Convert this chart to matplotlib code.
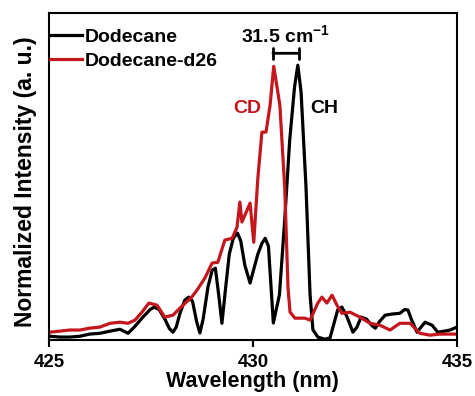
import matplotlib
matplotlib.use("Agg")
import matplotlib.pyplot as plt

plt.rcParams['font.family'] = ['Liberation Sans', 'DejaVu Sans']
plt.rcParams['font.weight'] = 'bold'
plt.rcParams['mathtext.fontset'] = 'custom'
plt.rcParams['mathtext.rm'] = 'Liberation Sans:bold'
plt.rcParams['mathtext.bf'] = 'Liberation Sans:bold'
plt.rcParams['mathtext.default'] = 'bf'

# Dodecane (CH) spectrum
wl_ch = [425.02, 425.27, 425.51, 425.76, 426.00, 426.25, 426.50, 426.74, 426.94,
         427.11, 427.28, 427.48, 427.58, 427.70, 427.84, 427.95, 428.04, 428.12,
         428.21, 428.33, 428.43, 428.52, 428.62, 428.70, 428.78, 428.90, 429.00,
         429.08, 429.16, 429.24, 429.32, 429.42, 429.52, 429.62, 429.70, 429.80,
         429.93, 430.03, 430.12, 430.22, 430.30, 430.38, 430.50, 430.65,
         430.78, 430.90, 431.02, 431.10, 431.18, 431.30, 431.40, 431.47, 431.59,
         431.76, 431.89, 431.98, 432.08, 432.18, 432.30, 432.45, 432.55, 432.65,
         432.78, 432.92, 433.00, 433.10, 433.24, 433.40, 433.60, 433.72, 433.80,
         433.88, 434.02, 434.12, 434.22, 434.39, 434.53, 434.70, 434.83, 435.00]
int_ch = [-0.004, -0.007, -0.007, -0.004, 0.004, 0.007, 0.015, 0.022, 0.007,
          0.033, 0.063, 0.095, 0.104, 0.095, 0.060, 0.025, 0.011, 0.030,
          0.080, 0.130, 0.141, 0.125, 0.050, 0.008, 0.060, 0.180, 0.240,
          0.248, 0.150, 0.044, 0.160, 0.300, 0.360, 0.378, 0.350, 0.260,
          0.193, 0.250, 0.300, 0.340, 0.359, 0.330, 0.045, 0.150,
          0.430, 0.720, 0.920, 1.000, 0.900, 0.550, 0.150, 0.020, -0.007,
          -0.015, -0.010, 0.040, 0.095, 0.104, 0.070, 0.011, 0.030, 0.067,
          0.060, 0.035, 0.026, 0.050, 0.074, 0.078, 0.081, 0.095, 0.093,
          0.060, 0.011, 0.030, 0.048, 0.037, 0.011, 0.015, 0.019, 0.030]

# Dodecane-d26 (CD) spectrum
wl_cd = [425.02, 425.27, 425.51, 425.76, 426.00, 426.25, 426.50, 426.74, 426.94,
         427.11, 427.28, 427.45, 427.65, 427.84, 428.04, 428.21, 428.50, 428.63,
         428.82, 429.00, 429.14, 429.31, 429.49, 429.61, 429.68, 429.73, 429.93,
         430.02, 430.12, 430.22, 430.32, 430.42, 430.51, 430.66, 430.78, 430.86,
         430.91, 431.03, 431.27, 431.40, 431.59, 431.69, 431.81, 431.94, 432.06,
         432.18, 432.38, 432.62, 432.87, 433.11, 433.36, 433.60, 433.85, 434.09,
         434.34, 434.58, 435.00]
int_cd = [0.011, 0.015, 0.019, 0.019, 0.026, 0.030, 0.044, 0.048, 0.044,
          0.056, 0.085, 0.119, 0.111, 0.067, 0.074, 0.100, 0.141, 0.167,
          0.211, 0.267, 0.270, 0.352, 0.359, 0.400, 0.493, 0.419, 0.489,
          0.344, 0.581, 0.752, 0.752, 0.852, 0.996, 0.852, 0.544, 0.174,
          0.085, 0.063, 0.063, 0.056, 0.119, 0.141, 0.119, 0.148, 0.111,
          0.081, 0.085, 0.067, 0.044, 0.037, 0.019, 0.044, 0.044, 0.007,
          0.000, 0.004, 0.004]

x_ticks = [425, 430, 435]
red = '#c4161c'

fig = plt.figure(figsize=(4.75, 3.96), dpi=100)
ax = fig.add_axes([0.103, 0.141, 0.859, 0.826])

ax.plot(wl_ch, int_ch, color='black', lw=2.3, label='Dodecane')
ax.plot(wl_cd, int_cd, color=red, lw=2.3, label='Dodecane-d26')

ax.set_xlim(425, 435)
ax.set_ylim(-0.0185, 1.193)
ax.set_xticks(x_ticks)
ax.set_xticklabels([str(t) for t in x_ticks])
ax.set_yticks([])
ax.tick_params(axis='x', direction='out', length=5, width=1.5, labelsize=13.5, pad=5)
for s in ax.spines.values():
    s.set_linewidth(1.5)

ax.set_xlabel('Wavelength (nm)', fontsize=15.5, fontweight='bold', labelpad=0)
ax.set_ylabel('Normalized Intensity (a. u.)', fontsize=16.5, fontweight='bold')
ax.yaxis.set_label_coords(-0.03, 0.485)

ax.legend(loc='upper left', bbox_to_anchor=(-0.015, 0.975), frameon=False,
          fontsize=14, handlelength=1.65, handletextpad=0.15, borderaxespad=0,
          borderpad=0.35, labelspacing=0.35)

# peak spacing marker
ax.annotate('', xy=(430.49, 1.044), xytext=(431.12, 1.044),
            arrowprops=dict(arrowstyle='|-|', lw=2, color='black',
                            mutation_scale=4, shrinkA=0, shrinkB=0))
ax.text(430.8, 1.11, r'31.5 cm$^{-1}$', ha='center', va='center', fontsize=14,
        fontweight='bold')
ax.text(429.85, 0.84, 'CD', color=red, ha='center', va='center', fontsize=14,
        fontweight='bold')
ax.text(431.74, 0.84, 'CH', color='black', ha='center', va='center', fontsize=14,
        fontweight='bold')

fig.savefig('out.png', dpi=100)
